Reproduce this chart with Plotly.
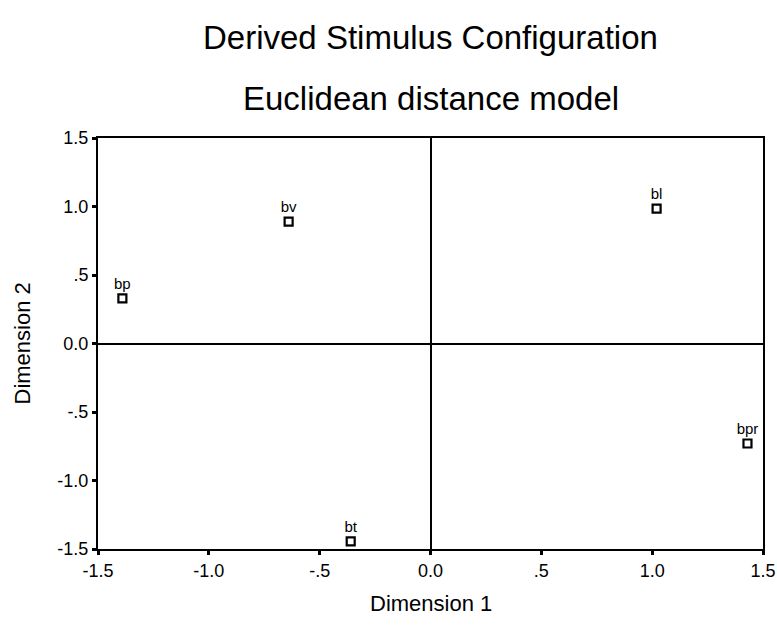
import plotly.graph_objects as go

labels = ["bp", "bv", "bl", "bpr", "bt"]
dim1 = [-1.39, -0.64, 1.02, 1.43, -0.36]
dim2 = [0.33, 0.89, 0.985, -0.73, -1.445]

tick_vals = [-1.5, -1.0, -0.5, 0.0, 0.5, 1.0, 1.5]
tick_text = ["-1.5", "-1.0", "-.5", "0.0", ".5", "1.0", "1.5"]

font_family = "Liberation Sans, Arial, sans-serif"

fig = go.Figure()
fig.add_trace(go.Scatter(
    x=dim1, y=dim2, mode="markers+text", text=labels,
    textposition="top center",
    textfont=dict(family=font_family, size=15, color="black"),
    marker=dict(symbol="square-open", size=8, color="black", line=dict(width=2.2)),
    showlegend=False, cliponaxis=False,
))

axis_common = dict(
    range=[-1.5, 1.5], tickmode="array", tickvals=tick_vals, ticktext=tick_text,
    showgrid=False, zeroline=True, zerolinecolor="black", zerolinewidth=2,
    showline=True, linecolor="black", linewidth=2, mirror=True,
    ticks="outside", ticklen=4, tickwidth=3, tickcolor="black",
    tickfont=dict(family=font_family, size=18, color="black"),
    automargin=False,
)

fig.update_layout(
    width=777, height=643,
    margin=dict(l=98, r=14, t=138, b=94),
    paper_bgcolor="white", plot_bgcolor="white",
    xaxis=dict(**axis_common),
    yaxis=dict(**axis_common),
)

fig.add_annotation(text="Derived Stimulus Configuration", xref="paper", yref="paper",
                   x=0.5, y=1.0, yshift=101, showarrow=False, xanchor="center", yanchor="middle",
                   font=dict(family=font_family, size=33, color="black"))
fig.add_annotation(text="Euclidean distance model", xref="paper", yref="paper",
                   x=0.5, y=1.0, yshift=40, showarrow=False, xanchor="center", yanchor="middle",
                   font=dict(family=font_family, size=33, color="black"))
fig.add_annotation(text="Dimension 1", xref="paper", yref="paper",
                   x=0.5, y=0.0, yshift=-54, showarrow=False, xanchor="center", yanchor="middle",
                   font=dict(family=font_family, size=22, color="black"))
fig.add_annotation(text="Dimension 2", xref="paper", yref="paper", textangle=-90,
                   x=0.0, y=0.5, xshift=-76, showarrow=False, xanchor="center", yanchor="middle",
                   font=dict(family=font_family, size=22, color="black"))

fig.write_html("out.html")
